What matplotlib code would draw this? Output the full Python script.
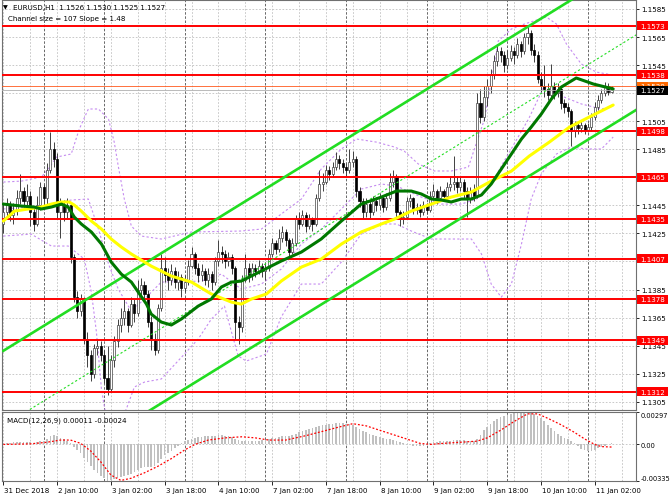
import matplotlib
matplotlib.use("Agg")
import matplotlib.pyplot as plt
import matplotlib.transforms as mtransforms
from matplotlib.patches import Rectangle

plt.rcParams['font.family'] = ['DejaVu Sans', 'Noto Sans']

# --- EURUSD H1 candles (bar index = hour since chart start) ---
FIRST_OPEN = 1.1432
CLOSES = [
    1.1440, 1.1445, 1.1438, 1.1442, 1.1450, 1.1455, 1.1448, 1.1452, 1.1440, 1.1432,
    1.1445, 1.1458, 1.1450, 1.1470, 1.1485, 1.1478, 1.1440, 1.1445, 1.1440, 1.1445,
    1.1408, 1.1380, 1.1370, 1.1378, 1.1350, 1.1338, 1.1325, 1.1343, 1.1345, 1.1338,
    1.1322, 1.1314, 1.1335, 1.1348, 1.1360, 1.1365, 1.1370, 1.1360, 1.1375, 1.1368,
    1.1385, 1.1388, 1.1382, 1.1362, 1.1350, 1.1342, 1.1372, 1.1400, 1.1395, 1.1392,
    1.1398, 1.1390, 1.1394, 1.1386, 1.1390, 1.1402, 1.1410, 1.1400, 1.1395, 1.1398,
    1.1392, 1.1396, 1.1390, 1.1405, 1.1412, 1.1410, 1.1405, 1.1408, 1.1400, 1.1362,
    1.1358, 1.1392, 1.1400, 1.1395, 1.1400, 1.1398, 1.1402, 1.1398, 1.1400, 1.1410,
    1.1418, 1.1414, 1.1422, 1.1426, 1.1420, 1.1412, 1.1418, 1.1435, 1.1432, 1.1438,
    1.1430, 1.1435, 1.1432, 1.1450, 1.1460, 1.1462, 1.1470, 1.1467, 1.1472, 1.1478,
    1.1475, 1.1472, 1.1470, 1.1476, 1.1478, 1.1455, 1.1448, 1.1440, 1.1446, 1.1440,
    1.1448, 1.1445, 1.1450, 1.1444, 1.1450, 1.1462, 1.1465, 1.1440, 1.1435, 1.1437,
    1.1448, 1.1450, 1.1442, 1.1444, 1.1440, 1.1445, 1.1442, 1.1452, 1.1455, 1.1450,
    1.1455, 1.1452, 1.1458, 1.1460, 1.1462, 1.1458, 1.1462, 1.1455, 1.1450, 1.1455,
    1.1452, 1.1518, 1.1508, 1.1522, 1.1530, 1.1538, 1.1548, 1.1555, 1.1552, 1.1545,
    1.1550, 1.1555, 1.1552, 1.1560, 1.1555, 1.1565, 1.1568, 1.1556, 1.1552, 1.1535,
    1.1530, 1.1528, 1.1524, 1.1530, 1.1525, 1.1528, 1.1518, 1.1515, 1.1512, 1.1498,
    1.1502, 1.1500, 1.1502, 1.1499, 1.1501, 1.1508, 1.1515, 1.1520, 1.1525, 1.1530,
    1.1526, 1.1527,
]
HIGHS = [
    1.1446, 1.1450, 1.1448, 1.1447, 1.1456, 1.1467, 1.1458, 1.1460, 1.1455, 1.1443,
    1.1452, 1.1462, 1.1460, 1.1475, 1.1497, 1.1490, 1.1482, 1.1450, 1.1449, 1.1450,
    1.1447, 1.1410, 1.1384, 1.1382, 1.1380, 1.1355, 1.1342, 1.1346, 1.1350, 1.1348,
    1.1342, 1.1345, 1.1338, 1.1352, 1.1364, 1.1372, 1.1378, 1.1372, 1.1380, 1.1378,
    1.1392, 1.1393, 1.1391, 1.1385, 1.1366, 1.1354, 1.1375, 1.1410, 1.1408, 1.1400,
    1.1403, 1.1401, 1.1398, 1.1396, 1.1395, 1.1406, 1.1415, 1.1412, 1.1404, 1.1403,
    1.1400, 1.1400, 1.1398, 1.1408, 1.1420, 1.1416, 1.1413, 1.1412, 1.1410, 1.1402,
    1.1366, 1.1395, 1.1410, 1.1404, 1.1404, 1.1403, 1.1406, 1.1404, 1.1404, 1.1414,
    1.1422, 1.1420, 1.1428, 1.1430, 1.1428, 1.1422, 1.1422, 1.1438, 1.1440, 1.1442,
    1.1440, 1.1439, 1.1437, 1.1453, 1.1470, 1.1468, 1.1474, 1.1473, 1.1476, 1.1483,
    1.1481, 1.1478, 1.1475, 1.1485, 1.1484, 1.1480, 1.1458, 1.1450, 1.1450, 1.1449,
    1.1452, 1.1451, 1.1454, 1.1452, 1.1454, 1.1468, 1.1470, 1.1467, 1.1442, 1.1441,
    1.1451, 1.1453, 1.1451, 1.1447, 1.1446, 1.1448, 1.1447, 1.1455, 1.1460, 1.1457,
    1.1459, 1.1457, 1.1462, 1.1465, 1.1480, 1.1466, 1.1466, 1.1464, 1.1458, 1.1458,
    1.1460, 1.1525, 1.1528, 1.1530, 1.1535, 1.1542, 1.1552, 1.1560, 1.1558, 1.1555,
    1.1556, 1.1559, 1.1558, 1.1564, 1.1562, 1.1568, 1.1572, 1.1570, 1.1560, 1.1555,
    1.1540, 1.1545, 1.1532, 1.1546, 1.1533, 1.1532, 1.1530, 1.1521, 1.1518, 1.1514,
    1.1505, 1.1505, 1.1505, 1.1504, 1.1504, 1.1511, 1.1519, 1.1524, 1.1528, 1.1533,
    1.1532, 1.1530,
]
LOWS = [
    1.1425, 1.1436, 1.1434, 1.1432, 1.1438, 1.1446, 1.1444, 1.1443, 1.1430, 1.1427,
    1.1430, 1.1442, 1.1444, 1.1446, 1.1468, 1.1472, 1.1436, 1.1422, 1.1434, 1.1436,
    1.1404, 1.1376, 1.1365, 1.1366, 1.1346, 1.1330, 1.1320, 1.1322, 1.1338, 1.1334,
    1.1318, 1.1310, 1.1312, 1.1330, 1.1344, 1.1355, 1.1360, 1.1355, 1.1358, 1.1362,
    1.1366, 1.1380, 1.1376, 1.1358, 1.1342, 1.1338, 1.1340, 1.1370, 1.1390, 1.1385,
    1.1388, 1.1386, 1.1385, 1.1380, 1.1383, 1.1388, 1.1400, 1.1396, 1.1390, 1.1391,
    1.1388, 1.1387, 1.1385, 1.1388, 1.1402, 1.1404, 1.1400, 1.1402, 1.1396, 1.1350,
    1.1346, 1.1355, 1.1390, 1.1390, 1.1392, 1.1394, 1.1396, 1.1394, 1.1392, 1.1398,
    1.1408, 1.1410, 1.1412, 1.1419, 1.1416, 1.1408, 1.1410, 1.1416, 1.1428, 1.1430,
    1.1426, 1.1428, 1.1427, 1.1430, 1.1448, 1.1455, 1.1460, 1.1463, 1.1465, 1.1470,
    1.1471, 1.1468, 1.1466, 1.1468, 1.1472, 1.1451, 1.1444, 1.1436, 1.1437, 1.1436,
    1.1438, 1.1441, 1.1442, 1.1440, 1.1442, 1.1448, 1.1458, 1.1437, 1.1430, 1.1432,
    1.1435, 1.1444, 1.1439, 1.1439, 1.1437, 1.1438, 1.1439, 1.1440, 1.1449, 1.1446,
    1.1448, 1.1449, 1.1450, 1.1455, 1.1456, 1.1454, 1.1455, 1.1450, 1.1437, 1.1447,
    1.1448, 1.1450, 1.1504, 1.1505, 1.1516, 1.1525, 1.1535, 1.1544, 1.1547, 1.1540,
    1.1542, 1.1548, 1.1546, 1.1550, 1.1551, 1.1553, 1.1560, 1.1552, 1.1547, 1.1532,
    1.1526, 1.1522, 1.1520, 1.1521, 1.1521, 1.1522, 1.1514, 1.1511, 1.1508, 1.1487,
    1.1494, 1.1496, 1.1497, 1.1496, 1.1497, 1.1498, 1.1506, 1.1513, 1.1518, 1.1523,
    1.1524, 1.1525,
]

# moving averages (bar, price)
GREEN_MA_BARS = [0, 5.4, 9.2, 11.3, 14.3, 17.3, 19.3, 21.1, 23.2, 26.2, 29.2, 32.1, 35.1,
                 38.1, 42.6, 44.0, 47.0, 50.0, 53.0, 58.0, 61.9, 64.9, 67.9, 70.8, 73.8,
                 76.8, 82.7, 88.7, 94.6, 100.6, 106.5, 112.5, 117.0, 121.4, 124.4, 127.4,
                 130.4, 133.3, 136.3, 139.3, 142.3, 145.2, 148.2, 151.2, 154.2, 157.1,
                 160.1, 163.1, 166.1, 170.5, 175.6, 181.5]
GREEN_MA = [1.14459, 1.14445, 1.14438, 1.14424, 1.14438, 1.14459, 1.14438, 1.14367, 1.14317,
            1.14260, 1.14174, 1.14046, 1.13960, 1.13903, 1.13746, 1.13675, 1.13618, 1.13597,
            1.13640, 1.13732, 1.13782, 1.13868, 1.13903, 1.13910, 1.13946, 1.13982, 1.14053,
            1.14117, 1.14210, 1.14338, 1.14459, 1.14509, 1.14552, 1.14552, 1.14531, 1.14495,
            1.14488, 1.14474, 1.14495, 1.14495, 1.14524, 1.14602, 1.14709, 1.14816, 1.14923,
            1.15008, 1.15101, 1.15208, 1.15294, 1.15358, 1.15315, 1.15280]

YELLOW_MA_BARS = [0, 3.3, 7.4, 11.3, 14.3, 17.3, 19.6, 21.1, 23.2, 26.2, 29.2, 32.1, 35.1,
                  38.1, 44.0, 50.0, 56.0, 61.9, 67.9, 70.8, 73.8, 78.3, 82.7, 88.7, 94.6,
                  100.6, 106.5, 112.5, 116.4, 121.4, 127.4, 133.3, 139.3, 145.2, 151.2,
                  156.5, 162.5, 168.5, 174.4, 181.5]
YELLOW_MA = [1.14338, 1.14409, 1.14424, 1.14438, 1.14459, 1.14474, 1.14474, 1.14452, 1.14409,
             1.14338, 1.14281, 1.14210, 1.14153, 1.14103, 1.14017, 1.13946, 1.13903, 1.13818,
             1.13760, 1.13746, 1.13782, 1.13818, 1.13910, 1.14010, 1.14067, 1.14174, 1.14260,
             1.14317, 1.14352, 1.14409, 1.14459, 1.14509, 1.14545, 1.14623, 1.14694, 1.14801,
             1.14901, 1.15008, 1.15080, 1.15165]

# bollinger bands
BB_UP_BARS = [0, 5.4, 11.3, 13.4, 15.8, 20.2, 22.6, 25.3, 28.3, 31.3, 33.0, 34.2, 36.0, 38.1,
              41.1, 47.0, 56.0, 70.8, 76.8, 82.7, 88.7, 94.6, 100.6, 105.1, 111.0, 116.4,
              119.3, 123.5, 128.3, 133.3, 138.4, 143.2, 147.3, 151.2, 155.1, 161.6, 164.6,
              167.6, 172.0, 176.5, 181.5]
BB_UP = [1.14616, 1.14623, 1.14652, 1.14709, 1.14794, 1.14816, 1.14994, 1.15137, 1.15137,
         1.15065, 1.14901, 1.14730, 1.14495, 1.14302, 1.14231, 1.14210, 1.14260, 1.14267,
         1.14281, 1.14388, 1.14495, 1.14709, 1.14852, 1.14923, 1.14901, 1.14866, 1.14837,
         1.14745, 1.14695, 1.14695, 1.14723, 1.15065, 1.15622, 1.15707, 1.15743, 1.15793,
         1.15743, 1.15600, 1.15458, 1.15400, 1.15379]
BB_MID_BARS = [0, 11.3, 20.2, 25.3, 28.3, 31.3, 34.2, 38.1, 42.6, 47.0, 58.9, 64.9, 70.8,
               76.8, 82.7, 88.7, 94.6, 100.6, 106.5, 112.5, 117.0, 124.4, 130.4, 136.3,
               140.8, 145.2, 148.2, 156.3, 161.0, 166.1, 172.0, 178.0, 181.5]
BB_MID = [1.14424, 1.14445, 1.14488, 1.14495, 1.14281, 1.14032, 1.13853, 1.13696, 1.13796,
          1.13903, 1.13910, 1.13960, 1.13853, 1.13889, 1.13996, 1.14174, 1.14281, 1.14424,
          1.14566, 1.14602, 1.14588, 1.14509, 1.14459, 1.14459, 1.14495, 1.14602, 1.14730,
          1.15065, 1.15301, 1.15230, 1.15173, 1.15137, 1.15158]
BB_LOW_BARS = [0, 8.3, 14.3, 19.3, 24.1, 26.2, 27.7, 29.2, 30.7, 33.6, 36.6, 39.0, 42.0,
               47.0, 53.9, 58.0, 61.9, 65.8, 67.9, 69.9, 72.3, 78.3, 82.7, 88.7, 94.6,
               100.6, 106.5, 112.5, 117.0, 121.4, 127.4, 133.3, 139.3, 142.3, 145.2, 148.2,
               151.2, 154.2, 157.1, 160.1, 164.6, 169.0, 173.5, 178.0, 181.5]
BB_LOW = [1.14231, 1.14245, 1.14160, 1.14160, 1.14067, 1.13832, 1.13547, 1.13140, 1.12926,
          1.12855, 1.12998, 1.13155, 1.13190, 1.13212, 1.13390, 1.13497, 1.13639, 1.13732,
          1.13547, 1.13376, 1.13340, 1.13390, 1.13654, 1.13889, 1.13889, 1.14046, 1.14245,
          1.14317, 1.14317, 1.14267, 1.14210, 1.14210, 1.14210, 1.14103, 1.13889, 1.13796,
          1.13889, 1.14174, 1.14495, 1.14673, 1.14816, 1.14866, 1.14852, 1.14852, 1.14937]

# regression channel (size 107 pips, slope 1.48 pips/bar)
CHANNEL_BARS = [0, 190]
CHANNEL_UPPER = [1.13413, 1.16225]
CHANNEL_MID = [1.12878, 1.15690]
CHANNEL_LOWER = [1.12343, 1.15155]

LEVELS = [1.1573, 1.1538, 1.1498, 1.1465, 1.1435, 1.1407, 1.1378, 1.1349, 1.1312]
BID = 1.1527
ASK = 1.1530
PRICE_TICKS = [1.1305, 1.1325, 1.1345, 1.1365, 1.1385, 1.1405, 1.1425, 1.1445, 1.1465,
               1.1485, 1.1505, 1.1525, 1.1545, 1.1565, 1.1585]
HIDDEN_TICKS = [1.1405, 1.1465, 1.1525]   # covered by the level boxes

# MACD(12,26,9) main line (histogram), in 1e-4
MACD = [1, 1, 1, 2, 2, 2, 2, 2, 2, 1, 2, 3, 3, 5, 8, 9, 8, 6, 5, 3, 1, -2,
        -5, -8, -12, -16, -20, -23, -26, -29, -31, -33.5, -33, -32, -31, -30,
        -29, -28, -27, -25, -23, -22, -21, -21, -21, -20, -17, -13, -10, -8, -6,
        -3, -1, 1, 3, 4, 5, 6, 7, 7, 8, 8, 8, 8, 9, 9, 8, 8, 7, 5, 4,
        3, 3, 3, 3, 3, 3, 4, 4, 5, 6, 6, 7, 8, 8, 8, 9, 10, 11, 12,
        13, 14, 15, 16, 17, 18, 18, 19, 19, 20, 20, 20, 19, 19, 18, 16, 14, 12, 11, 10,
        9, 8, 7, 6, 5, 5, 4, 3, 2, 1, 0, 0, -1, -1, -1, -1, 0, 1,
        2, 2, 3, 3, 3, 3, 4, 4, 4, 4, 3, 3, 3, 5,
        9, 13, 16, 19, 21, 23, 25, 26, 27, 28, 29, 29, 29.7, 29.7, 29, 29, 28,
        26, 24, 21, 18, 15, 12, 10, 8, 6, 5, 3, 1, -1, -4, -5, -6, -6, -5,
        -3, -2, -1, 0, 1.1]
SIGNAL_BARS = [0, 8, 13, 17, 20, 23, 26, 29, 32, 35, 38, 42, 46, 50, 54, 57, 61, 66, 71, 75,
               79, 84, 90, 95, 100, 104, 108, 112, 116, 120, 124, 127, 131, 136, 141, 144,
               148, 152, 156, 159, 162, 166, 170, 173, 176, 178, 181]
SIGNAL = [0, 0.5, 2, 4, 4, 1, -6, -16, -28, -33, -31, -26, -20, -13, -5, 0, 4, 6, 7, 6,
          4, 4, 8, 12, 16, 19, 17, 13, 9, 5, 1, 0, 1, 2, 3, 6,
          13, 21, 28, 28, 24, 18, 11, 5, 0, -2, -2.4]

TIME_LABELS = ["31 Dec 2018", "2 Jan 10:00", "3 Jan 02:00", "3 Jan 18:00", "4 Jan 10:00",
               "7 Jan 02:00", "7 Jan 18:00", "8 Jan 10:00", "9 Jan 02:00", "9 Jan 18:00",
               "10 Jan 10:00", "11 Jan 02:00"]
LABEL_STEP = 16
DAY_SEPARATORS = [12, 30, 54, 78, 102, 126, 150, 174]

W, H = 670, 502
FS = 5.1
GRID = '#c0c0c0'

fig = plt.figure(figsize=(W / 100, H / 100), dpi=100)
ax = fig.add_axes([2 / W, 1 - 411 / H, 634 / W, 410 / H])
ax2 = fig.add_axes([2 / W, 1 - 482 / H, 634 / W, 69 / H])

xmin, xmax = -0.4, -0.4 + 634 / 3.36
for a in (ax, ax2):
    a.set_xlim(xmin, xmax)
    for s in a.spines.values():
        s.set_color('#707070')
        s.set_linewidth(0.8)
    for g in range(0, 190, 8):
        a.axvline(g, color=GRID, lw=0.6, ls=(0, (2, 2)), zorder=0.5)
    for d in DAY_SEPARATORS:
        a.axvline(d, color='#505050', lw=0.6, ls=(0, (3, 2)), zorder=0.6)

ax.set_ylim(1.12991, 1.15914)
for p in PRICE_TICKS:
    ax.axhline(p, color=GRID, lw=0.6, ls=(0, (2, 2)), zorder=0.5)

# bollinger bands
for bx, by in ((BB_UP_BARS, BB_UP), (BB_MID_BARS, BB_MID), (BB_LOW_BARS, BB_LOW)):
    ax.plot(bx, by, color='#c58cf0', lw=0.8, ls=(0, (2, 2)), zorder=1)

# candles
opens = [FIRST_OPEN] + CLOSES[:-1]
for i, (o, c, hi, lo) in enumerate(zip(opens, CLOSES, HIGHS, LOWS)):
    ax.vlines(i, lo, hi, color='#404040', lw=0.7, zorder=2)
    bull = c >= o
    ax.bar(i, max(abs(c - o), 0.00004), bottom=min(o, c), width=0.62,
           color='white' if bull else 'black', edgecolor='#404040' if bull else 'black',
           linewidth=0.5, zorder=2.2)

# horizontal levels
for lv in LEVELS:
    ax.axhline(lv, color='#ff0000', lw=1.4, zorder=3)
ax.axhline(BID, color='#b0b0b0', lw=0.6, zorder=3)
ax.axhline(ASK, color='#ff5a1e', lw=0.6, zorder=3)

# channel
ax.plot(CHANNEL_BARS, CHANNEL_UPPER, color='#22dd22', lw=1.9, zorder=3.5)
ax.plot(CHANNEL_BARS, CHANNEL_LOWER, color='#22dd22', lw=1.9, zorder=3.5)
ax.plot(CHANNEL_BARS, CHANNEL_MID, color='#22dd22', lw=0.8, ls=(0, (2, 2)), zorder=3.5)

# moving averages
ax.plot(YELLOW_MA_BARS, YELLOW_MA, color='#ffff00', lw=2.2, zorder=4, solid_capstyle='round')
ax.plot(GREEN_MA_BARS, GREEN_MA, color='#007800', lw=2.2, zorder=4.2, solid_capstyle='round')

# right price scale
ax.yaxis.tick_right()
ax.set_yticks(PRICE_TICKS)
ax.set_yticklabels(["" if p in HIDDEN_TICKS else f"{p:.4f}" for p in PRICE_TICKS])
ax.tick_params(axis='y', labelsize=FS, length=2.5, width=0.6, pad=1.5, colors='black')
ax.tick_params(axis='x', bottom=False, labelbottom=False)

trans = mtransforms.blended_transform_factory(ax.transAxes, ax.transData)
box_w = 31 / 634
box_h = 9 * 0.0000713


def price_box(price, color, z, clip_below=None):
    rect = Rectangle((1 + 1 / 634, price - box_h / 2), box_w, box_h, transform=trans,
                     facecolor=color, edgecolor='none', clip_on=False, zorder=z)
    ax.add_patch(rect)
    t = ax.text(1 + 4 / 634, price, f"{price:.4f}", transform=trans, color='white',
                fontsize=FS, va='center', ha='left', clip_on=False, zorder=z + 0.1)
    if clip_below is not None:
        # only the strip above the next box stays visible
        strip = Rectangle((1 + 1 / 634, clip_below), box_w, price + box_h / 2 - clip_below,
                          transform=trans, facecolor='none', edgecolor='none')
        ax.add_patch(strip)
        strip.set_clip_on(False)
        t.set_clip_path(strip)
        t.set_clip_on(True)


for lv in LEVELS:
    price_box(lv, '#ff0000', 6)
price_box(ASK, '#ff6a00', 6.2, clip_below=BID + box_h / 2)
price_box(BID, '#000000', 6.4)

# MACD window
ax2.set_ylim(-0.00335, 0.00297)
ax2.axhline(0, color=GRID, lw=0.6, ls=(0, (2, 2)), zorder=0.5)
ax2.bar(range(len(MACD)), [m * 1e-4 for m in MACD], width=0.5, color='#c0c0c0', zorder=1)
ax2.plot(SIGNAL_BARS, [s * 1e-4 for s in SIGNAL], color='#ff0000', lw=0.9,
         ls=(0, (1.5, 1.5)), zorder=2)
ax2.yaxis.tick_right()
ax2.set_yticks([-0.00335, 0, 0.00297])
ax2.set_yticklabels(["-0.00335", "0.00", "0.00297"])
ax2.tick_params(axis='y', labelsize=4.8, length=2.5, width=0.6, pad=1.0)
for lab in ax2.get_yticklabels():
    if lab.get_text() == "0.00297":
        lab.set_va('top')
    elif lab.get_text() == "-0.00335":
        lab.set_va('bottom')
ax2.text(5 / 634, 1 - 8 / 69, "MACD(12,26,9) 0.00011 -0.00024", transform=ax2.transAxes,
         fontsize=FS, va='center', ha='left')

tick_pos = [i * LABEL_STEP for i in range(len(TIME_LABELS))]
ax2.set_xticks(tick_pos)
ax2.set_xticklabels([])
ax2.tick_params(axis='x', length=3, width=0.6, direction='out')
xtrans = mtransforms.blended_transform_factory(ax2.transData, ax2.transAxes)
for pos, lab in zip(tick_pos, TIME_LABELS):
    ax2.text(pos + 0.3, -9 / 69, lab, transform=xtrans, fontsize=FS, va='center', ha='left',
             clip_on=False)

# header
fig.text(3 / W, 1 - 8 / H, "\u25bc", fontsize=4.5, va='center', ha='left')
fig.text(13 / W, 1 - 8 / H, "EURUSD,H1  1.1526 1.1530 1.1525 1.1527", fontsize=FS,
         va='center', ha='left')
fig.text(8 / W, 1 - 19.5 / H, "Channel size = 107 Slope = 1.48", fontsize=FS,
         va='center', ha='left')

fig.savefig("out.png", dpi=100)
